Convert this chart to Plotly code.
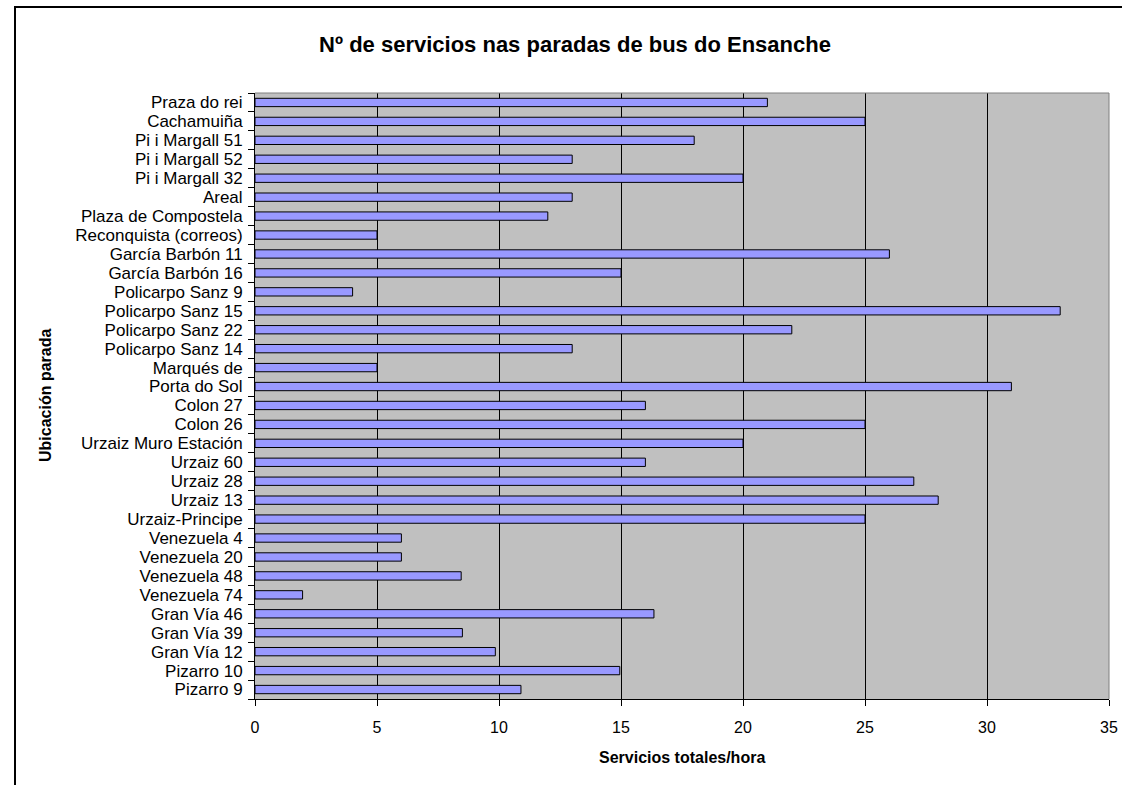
import plotly.graph_objects as go

paradas = [
    "Praza do rei", "Cachamuiña", "Pi i Margall 51", "Pi i Margall 52", "Pi i Margall 32",
    "Areal", "Plaza de Compostela", "Reconquista (correos)", "García Barbón 11",
    "García Barbón 16", "Policarpo Sanz 9", "Policarpo Sanz 15", "Policarpo Sanz 22",
    "Policarpo Sanz 14", "Marqués de", "Porta do Sol", "Colon 27", "Colon 26",
    "Urzaiz Muro Estación", "Urzaiz 60", "Urzaiz 28", "Urzaiz 13", "Urzaiz-Principe",
    "Venezuela 4", "Venezuela 20", "Venezuela 48", "Venezuela 74", "Gran Vía 46",
    "Gran Vía 39", "Gran Vía 12", "Pizarro 10", "Pizarro 9",
]
servicios = [
    21, 25, 18, 13, 20,
    13, 12, 5, 26,
    15, 4, 33, 22,
    13, 5, 31, 16, 25,
    20, 16, 27, 28, 25,
    6, 6, 8.45, 1.95, 16.35,
    8.5, 9.85, 14.95, 10.9,
]
x_ticks = [0, 5, 10, 15, 20, 25, 30, 35]

W, H = 1122, 785
L, R, T, B = 255, 13, 93, 86
pw, ph = W - L - R, H - T - B

def px_x(p):
    return (p - L) / pw

def px_y(p):
    return (H - B - p) / ph

FONT = "Liberation Sans, Arial, sans-serif"

fig = go.Figure(go.Bar(
    x=servicios, y=paradas, orientation="h",
    marker=dict(color="#9999FF", line=dict(color="#000000", width=1)),
))

fig.update_layout(
    width=W, height=H,
    margin=dict(l=L, r=R, t=T, b=B, pad=0, autoexpand=False),
    paper_bgcolor="white", plot_bgcolor="#C0C0C0",
    bargap=0.56, showlegend=False,
    font=dict(family=FONT, color="black"),
    title=dict(text="<b>Nº de servicios nas paradas de bus do Ensanche</b>",
               x=575 / W, xref="container", xanchor="center",
               y=1 - 44 / H, yref="container", yanchor="middle",
               font=dict(size=22, family=FONT, color="black")),
    xaxis=dict(range=[0, 35], tickvals=x_ticks, ticktext=[str(v) for v in x_ticks],
               showgrid=True, gridcolor="#000000", gridwidth=1,
               showline=True, linecolor="#000000", linewidth=1,
               ticks="outside", ticklen=6, tickcolor="#000000",
               tickfont=dict(size=16), zeroline=False, ticklabelstandoff=8,
               automargin=False),
    yaxis=dict(type="category", autorange="reversed", categoryorder="array",
               categoryarray=paradas, tickmode="array",
               tickvals=paradas, ticktext=paradas,
               showline=True, linecolor="#000000", linewidth=1,
               ticks="outside", ticklen=6, tickcolor="#000000",
               tickson="boundaries", showgrid=False,
               tickfont=dict(size=17), ticklabelstandoff=8,
               automargin=False),
)

fig.add_annotation(text="<b>Ubicación parada</b>", textangle=-90,
                   xref="paper", yref="paper", x=px_x(45), y=0.5,
                   xanchor="center", yanchor="middle", showarrow=False,
                   font=dict(size=16, family=FONT, color="black"))
fig.add_annotation(text="<b>Servicios totales/hora</b>",
                   xref="paper", yref="paper", x=px_x(682), y=px_y(757),
                   xanchor="center", yanchor="middle", showarrow=False,
                   font=dict(size=16, family=FONT, color="black"))

# gray top/right border of plot area
fig.add_shape(type="line", xref="paper", yref="paper", x0=0, x1=1, y0=1, y1=1,
              line=dict(color="#808080", width=1), layer="above")
fig.add_shape(type="line", xref="paper", yref="paper", x0=1, x1=1, y0=0, y1=1,
              line=dict(color="#808080", width=1), layer="above")
# outer chart frame
fig.add_shape(type="rect", xref="paper", yref="paper",
              x0=px_x(15), x1=px_x(1140), y0=px_y(800), y1=px_y(7),
              line=dict(color="#000000", width=2), fillcolor="rgba(0,0,0,0)",
              layer="above")

fig.write_html("out.html", config={"displayModeBar": False},
               post_script="document.body.style.margin='0';document.body.style.overflow='hidden';")
